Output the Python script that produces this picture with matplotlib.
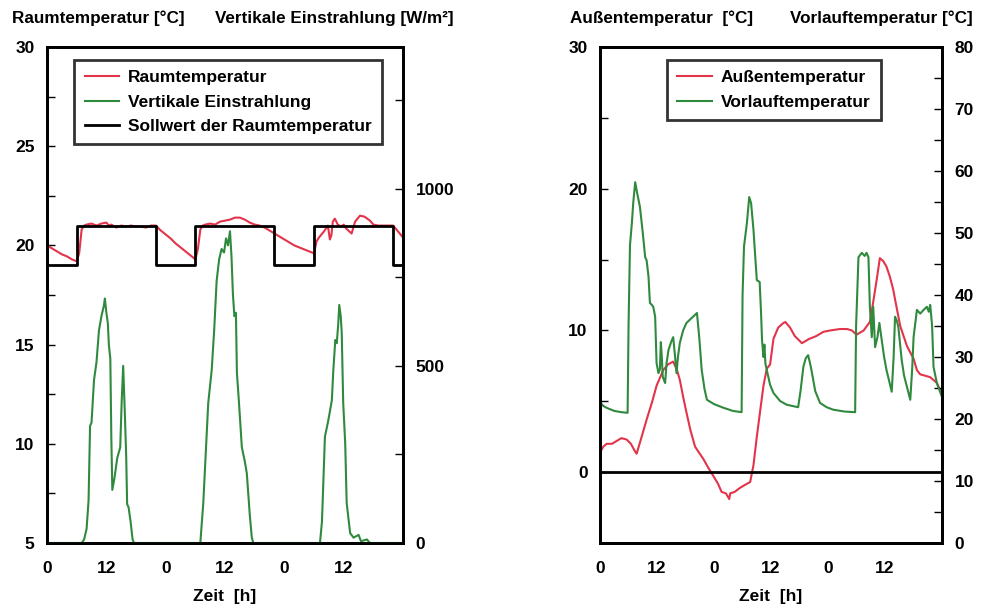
import matplotlib
matplotlib.use("Agg")
import matplotlib.pyplot as plt
from matplotlib.ticker import MultipleLocator

plt.rcParams['font.family'] = ['Liberation Sans', 'DejaVu Sans']
plt.rcParams['font.weight'] = 'bold'

ROT = '#e2344a'
GRUEN = '#2f8a3e'

# --- linkes Diagramm: Raumtemperatur, Sollwert, Einstrahlung ---
t_raum = [0, 1, 2, 3, 4, 5, 6, 6.5, 7, 7.5, 8, 9, 10, 11, 12, 12.5, 13, 14, 15, 16, 17, 18,
          19, 20, 21, 22, 23, 24, 25, 26, 27, 28, 29, 30, 30.5, 31, 31.5, 32, 33, 34, 35, 36,
          37, 38, 39, 40, 41, 42, 43, 44, 45, 46, 47, 48, 49, 50, 51, 52, 53, 54, 54.5, 55,
          56, 56.8, 57.2, 57.5, 57.8, 58.2, 58.8, 59.5, 60, 60.5, 61.6, 62.3, 63.3, 64.2,
          65.3, 66, 67, 68, 69, 70, 71, 72]
raum = [20.0, 19.85, 19.7, 19.55, 19.45, 19.3, 19.2, 19.6, 20.8, 21.0, 21.05, 21.1, 21.0,
        21.1, 21.15, 21.0, 21.05, 20.9, 21.0, 20.95, 21.0, 20.95, 20.95, 20.9, 21.0, 21.0,
        20.75, 20.55, 20.35, 20.1, 19.9, 19.7, 19.5, 19.3, 19.8, 20.8, 21.0, 21.05, 21.1,
        21.05, 21.2, 21.25, 21.3, 21.4, 21.4, 21.3, 21.15, 21.05, 21.0, 20.9, 20.75, 20.6,
        20.45, 20.3, 20.15, 20.0, 19.9, 19.8, 19.7, 19.6, 20.2, 20.4, 20.7, 21.0, 20.3,
        20.5, 21.2, 21.35, 21.05, 20.95, 21.05, 20.85, 20.6, 21.2, 21.5, 21.45, 21.25,
        21.05, 21.0, 21.0, 21.0, 21.0, 20.7, 20.4]

t_soll = [0, 6, 22, 30, 46, 54, 70, 72]
soll = [19, 21, 19, 21, 19, 21, 19, 19]

t_strahl = [0, 7.0, 7.5, 8.0, 8.4, 8.7, 9.0, 9.5, 10.0, 10.5, 11.0, 11.5, 11.7, 12.0, 12.3,
            12.5, 12.8, 13.0, 13.2, 13.6, 14.2, 14.8, 15.1, 15.4, 15.7, 16.0, 16.2, 16.5,
            16.9, 17.3, 17.6, 31.0, 31.6, 32.6, 33.3, 33.8, 34.3, 34.8, 35.3, 35.8, 36.2,
            36.6, 37.0, 37.3, 37.6, 37.9, 38.2, 38.4, 38.8, 39.4, 40.0, 40.4, 41.0, 41.4,
            41.7, 55.2, 55.6, 56.2, 56.9, 57.6, 57.9, 58.3, 58.6, 58.9, 59.1, 59.4, 59.6,
            59.9, 60.3, 60.6, 61.3, 62.0, 63.0, 63.5, 64.7, 65.3, 72]
strahl = [0, 0, 10, 40, 120, 330, 340, 460, 510, 600, 640, 670, 690, 650, 620, 560, 520, 300,
          150, 180, 240, 270, 400, 500, 380, 250, 110, 100, 60, 10, 0, 0, 113, 395, 488, 600,
          740, 800, 830, 820, 860, 840, 880, 810, 700, 640, 650, 480, 400, 270, 230, 197, 80,
          17, 0, 0, 60, 300, 347, 403, 488, 573, 564, 620, 672, 640, 593, 395, 282, 113, 28,
          15, 23, 5, 10, 0, 0]

# --- rechtes Diagramm: Aussentemperatur und Vorlauftemperatur ---
t_aussen = [0, 0.7, 1.4, 2.5, 3.5, 4.5, 5.6, 6.5, 7.3, 7.7, 8.5, 9.8, 11, 11.9, 13.3, 14.3,
            15.4, 16.2, 16.8, 17.5, 18.2, 19, 20, 21, 21.8, 22.8, 23.9, 24.8, 25.6, 26.5,
            27.2, 27.4, 28.3, 29.5, 30.5, 31.6, 32.3, 33, 33.7, 34.4, 35.1, 35.8, 36.5, 37.5,
            38.5, 39, 40, 41, 42.5, 44, 45.5, 47, 48.5, 50.5, 52, 53, 54, 55.5, 56.8, 57.5,
            58.2, 58.9, 59.6, 60.3, 61, 61.7, 62.5, 63.2, 64.6, 66, 66.7, 67.4, 68.5, 69.5,
            70.9, 72]
aussen = [1.4, 1.8, 2.0, 2.0, 2.2, 2.4, 2.3, 2.0, 1.5, 1.3, 2.2, 3.7, 5.0, 6.1, 7.2, 7.6,
          7.8, 7.2, 6.5, 5.3, 4.2, 3.0, 1.8, 1.3, 0.9, 0.3, -0.3, -0.8, -1.4, -1.5, -1.9,
          -1.5, -1.4, -1.1, -0.9, -0.7, 0.5, 2.5, 4.3, 6.1, 7.3, 7.6, 9.4, 10.2, 10.5, 10.6,
          10.2, 9.6, 9.1, 9.4, 9.6, 9.9, 10.0, 10.1, 10.1, 10.0, 9.7, 10.0, 10.6, 12.0, 13.5,
          15.1, 14.9, 14.5, 13.8, 12.9, 11.5, 10.3, 8.9, 8.0, 7.2, 6.9, 6.8, 6.7, 6.3, 5.5]

t_vorlauf = [0, 0.7, 1.4, 3, 4.5, 5.8, 6.0, 6.3, 6.7, 7.0, 7.4, 7.8, 8.4, 9.0, 9.5, 9.8, 10.2,
             10.5, 10.8, 11.2, 11.6, 11.9, 12.3, 12.6, 12.8, 13.0, 13.2, 13.7, 14.0, 14.4,
             15.0, 15.4, 15.8, 16.1, 16.4, 16.8, 17.5, 18.2, 19.3, 20.4, 20.9, 21.4, 22.0,
             22.5, 24, 26, 28, 29.8, 30.0, 30.3, 30.9, 31.4, 31.8, 32.3, 32.6, 33.0, 33.6,
             33.9, 34.1, 34.4, 34.6, 34.8, 35.1, 35.8, 36.5, 37.9, 39.3, 41.7, 42.2, 42.8,
             43.3, 43.8, 44.2, 44.5, 45.3, 46.3, 47.7, 49.1, 51.5, 53.7, 53.9, 54.4, 55.1,
             55.7, 56.1, 56.5, 56.8, 57.2, 57.5, 57.9, 58.4, 58.8, 59.3, 59.8, 60.3, 60.9,
             61.4, 61.8, 62.1, 62.5, 62.8, 63.5, 64.0, 64.6, 65.3, 65.7, 66.0, 66.7, 67.4,
             68.1, 68.8, 69.2, 69.5, 69.9, 70.2, 70.9, 72]
vorlauf = [22.7, 22.1, 21.8, 21.3, 21.1, 21.0, 35, 48, 51.6, 55, 58.2, 56.5, 54.2, 50, 46.1,
           45.6, 43, 38.7, 38.5, 38.1, 36.5, 29, 27.4, 28, 32.4, 30, 26.8, 25.8, 29, 31.1,
           32.5, 33.2, 30, 27.4, 30, 32.3, 34.3, 35.5, 36.3, 37.1, 33, 27.9, 24.8, 23.1, 22.4,
           21.8, 21.3, 21.1, 40, 47.8, 51.5, 55.8, 54.8, 50.5, 47, 42.4, 42.1, 37, 32.7, 30,
           32, 29, 27.9, 25.5, 24.2, 22.9, 22.3, 21.9, 24.5, 28.4, 29.8, 30.3, 29, 27.9, 24.5,
           22.6, 21.9, 21.5, 21.2, 21.1, 35, 46.1, 46.8, 46.3, 46.8, 46.1, 38.1, 33.2, 38.1,
           31.6, 33.2, 35.5, 32.7, 30, 27.9, 26, 24.4, 30, 36.5, 35.8, 34.8, 29.5, 27, 25.2,
           23.1, 28, 33.2, 37.6, 37.0, 37.6, 38.1, 37.3, 38.4, 35, 28.4, 25.8, 23.5]

x_ticks = [0, 12, 24, 36, 48, 60]
x_labels = ['0', '12', '0', '12', '0', '12']

fig = plt.figure(figsize=(9.84, 6.13), dpi=100)
ax1 = fig.add_axes([0.0478, 0.1142, 0.3618, 0.8091])
ax1b = ax1.twinx()
ax2 = fig.add_axes([0.6098, 0.1142, 0.3476, 0.8091])
ax2b = ax2.twinx()

l1, = ax1.plot(t_raum, raum, color=ROT, lw=1.5, label='Raumtemperatur')
l3, = ax1.plot(t_soll, soll, color='black', lw=2, drawstyle='steps-post',
               label='Sollwert der Raumtemperatur')
l2, = ax1b.plot(t_strahl, strahl, color=GRUEN, lw=1.5, label='Vertikale Einstrahlung')
ax1.set_ylim(5, 30)
ax1b.set_ylim(0, 1400)
ax1.yaxis.set_major_locator(MultipleLocator(5))
ax1.yaxis.set_minor_locator(MultipleLocator(2.5))
ax1b.set_yticks([0, 500, 1000])
ax1b.yaxis.set_minor_locator(MultipleLocator(250))

r1, = ax2.plot(t_aussen, aussen, color=ROT, lw=1.5, label='Außentemperatur')
ax2.axhline(0, color='black', lw=2)
r2, = ax2b.plot(t_vorlauf, vorlauf, color=GRUEN, lw=1.5, label='Vorlauftemperatur')
ax2.set_ylim(-5, 30)
ax2b.set_ylim(0, 80)
ax2.set_yticks([0, 10, 20, 30])
ax2.yaxis.set_minor_locator(MultipleLocator(5))
ax2b.yaxis.set_major_locator(MultipleLocator(10))
ax2b.yaxis.set_minor_locator(MultipleLocator(5))

for ax in [ax1, ax1b, ax2, ax2b]:
    ax.set_xlim(0, 72)
    ax.set_xticks(x_ticks)
    ax.set_xticklabels(x_labels)
    ax.tick_params(axis='x', length=0, pad=13, labelsize=12.5)
    ax.tick_params(axis='y', which='both', direction='in', length=6, width=1,
                   pad=9, labelsize=12.5)
    for s in ax.spines.values():
        s.set_linewidth(2)

ax1.set_xlabel('Zeit  [h]', fontsize=12.5, fontweight='bold', labelpad=9)
ax2.set_xlabel('Zeit  [h]', fontsize=12.5, fontweight='bold', labelpad=9)

leg_args = dict(loc='upper left', fontsize=12.5, frameon=True, fancybox=False,
                handlelength=2.0, handletextpad=0.5, labelspacing=0.52,
                borderpad=0.6, borderaxespad=0)
lg1 = ax1b.legend([l1, l2, l3], [l1.get_label(), l2.get_label(), l3.get_label()],
                  bbox_to_anchor=(0.076, 0.974), **leg_args)
lg2 = ax2b.legend([r1, r2], [r1.get_label(), r2.get_label()],
                  bbox_to_anchor=(0.196, 0.974), **leg_args)
for lg in [lg1, lg2]:
    lg.get_frame().set_edgecolor('black')
    lg.get_frame().set_linewidth(2)

fig.text(12 / 984, 1 - 18 / 613, 'Raumtemperatur [°C]', fontsize=12.3, va='center')
fig.text(215 / 984, 1 - 18 / 613, 'Vertikale Einstrahlung [W/m²]', fontsize=12.3,
         va='center')
fig.text(570 / 984, 1 - 18 / 613, 'Außentemperatur  [°C]', fontsize=12.3, va='center')
fig.text(973 / 984, 1 - 18 / 613, 'Vorlauftemperatur [°C]', fontsize=12.3, va='center',
         ha='right')

fig.savefig('out.png', dpi=100)
